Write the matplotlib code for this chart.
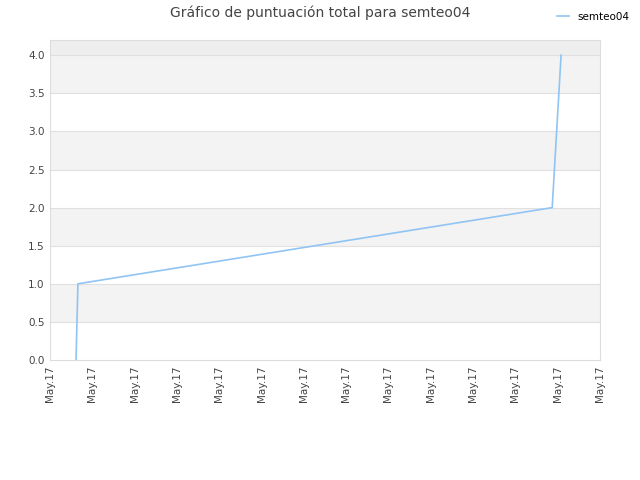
import matplotlib
matplotlib.use("Agg")
import matplotlib.pyplot as plt

x_vals = [0.615, 0.66, 11.87, 12.08]
y_vals = [0.0, 1.0, 2.0, 4.0]
tick_labels = ["May.17"] * 14
series = "semteo04"
title = "Gráfico de puntuación total para semteo04"

fig = plt.figure(figsize=(6.4, 4.8), dpi=100)
ax = fig.add_axes([50/640, 1-360/480, 550/640, 320/480])
ax.set_xlim(0, 13)
ax.set_ylim(0, 4.2)
for lo in [0.5, 1.5, 2.5, 3.5]:
    ax.axhspan(lo, lo+0.5, color="#f3f3f3", zorder=0, lw=0)
ax.axhspan(4.0, 4.2, color="#eeeeee", zorder=0, lw=0)
for yv in [0.5,1,1.5,2,2.5,3,3.5,4]:
    ax.axhline(yv, color="#e0e0e0", lw=0.8, zorder=1)
ax.plot(x_vals, y_vals, color="#90c4f4", lw=1.2, zorder=3, label=series)
ax.set_xticks(range(14))
ax.set_xticklabels(tick_labels, rotation=90, fontsize=7.5, color="#444444")
ax.set_yticks([0,0.5,1,1.5,2,2.5,3,3.5,4])
ax.set_yticklabels([f"{v:.1f}" for v in [0,0.5,1,1.5,2,2.5,3,3.5,4]], fontsize=7.5, color="#444444")
ax.tick_params(length=0, pad=4)
for s in ax.spines.values():
    s.set_color("#dddddd")
fig.text(0.5, 1-13/480, title, ha="center", va="center", fontsize=10, color="#444444")
fig.legend(loc="upper right", bbox_to_anchor=(0.998, 0.995), frameon=False, fontsize=7.5, handlelength=1.2)
fig.savefig("out.png", dpi=100)
